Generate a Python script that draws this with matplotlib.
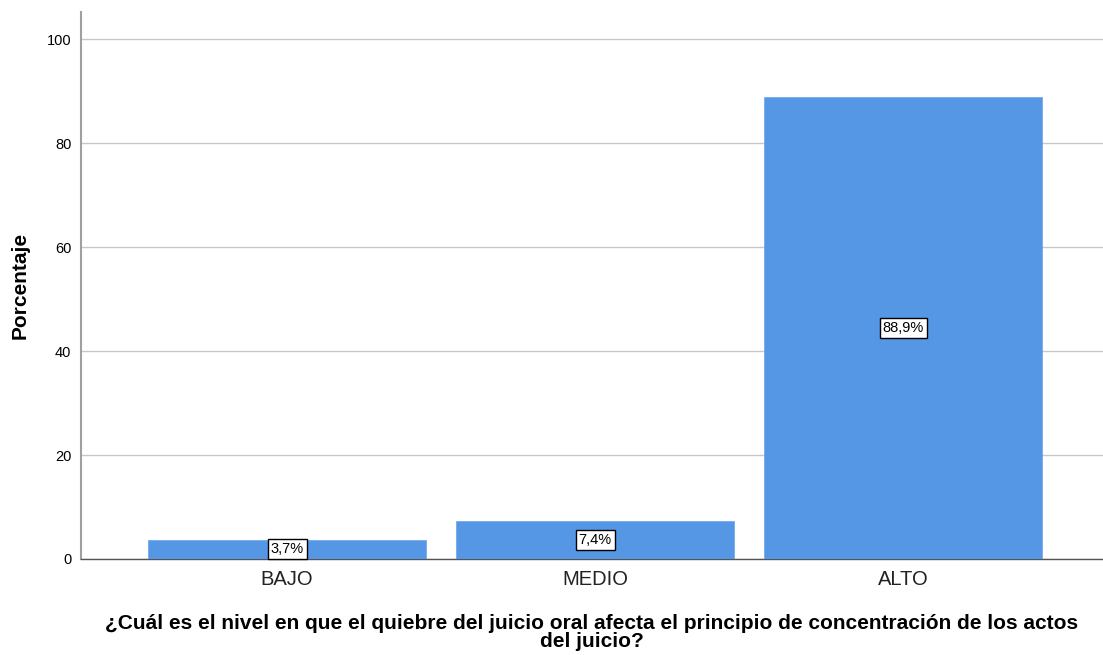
import matplotlib
matplotlib.use("Agg")
import matplotlib.pyplot as plt

categories = ["BAJO", "MEDIO", "ALTO"]
percentages = [3.7, 7.4, 88.9]
labels = ["3,7%", "7,4%", "88,9%"]
yticks = [0, 20, 40, 60, 80, 100]

plt.rcParams['font.family'] = ['Liberation Sans', 'DejaVu Sans']

fig = plt.figure(figsize=(11.03, 6.55), dpi=100)
ax = fig.add_axes([81/1103, 96/655, 1 - 81/1103, (559-12)/655])

x = list(range(len(categories)))
bars = ax.bar(x, percentages, width=0.9, color='#5596E5', edgecolor='#6aa3ea', linewidth=0.5, zorder=3)

for xi, v, lab in zip(x, percentages, labels):
    ax.text(xi, v/2, lab, ha='center', va='center', fontsize=10.5, zorder=5,
            bbox=dict(boxstyle='square,pad=0.2', facecolor='white', edgecolor='black', linewidth=1))

ax.set_xlim(-0.669, 2.649)
ax.set_ylim(0, 105.2)
ax.set_yticks(yticks)
ax.set_yticklabels([str(t) for t in yticks], fontsize=10.5)
ax.set_xticks(x)
ax.set_xticklabels(categories, fontsize=14.5, color='#222222')
ax.tick_params(axis='both', length=0)
ax.tick_params(axis='x', pad=8)
ax.tick_params(axis='y', pad=7)

ax.yaxis.grid(True, color='#c8c8c8', linewidth=1, zorder=0)
ax.set_axisbelow(True)
for s in ['top', 'right']:
    ax.spines[s].set_visible(False)
ax.spines['left'].set_color('#a0a0a0')
ax.spines['left'].set_linewidth(1.5)
ax.spines['bottom'].set_color('#555555')
ax.spines['bottom'].set_linewidth(1)

ax.set_ylabel('Porcentaje', fontsize=15, fontweight='bold', labelpad=12)
ax.set_xlabel('¿Cuál es el nivel en que el quiebre del juicio oral afecta el principio de concentración de los actos\ndel juicio?',
              fontsize=15, fontweight='bold', labelpad=18, linespacing=0.95)

fig.savefig('out.png', dpi=100)
